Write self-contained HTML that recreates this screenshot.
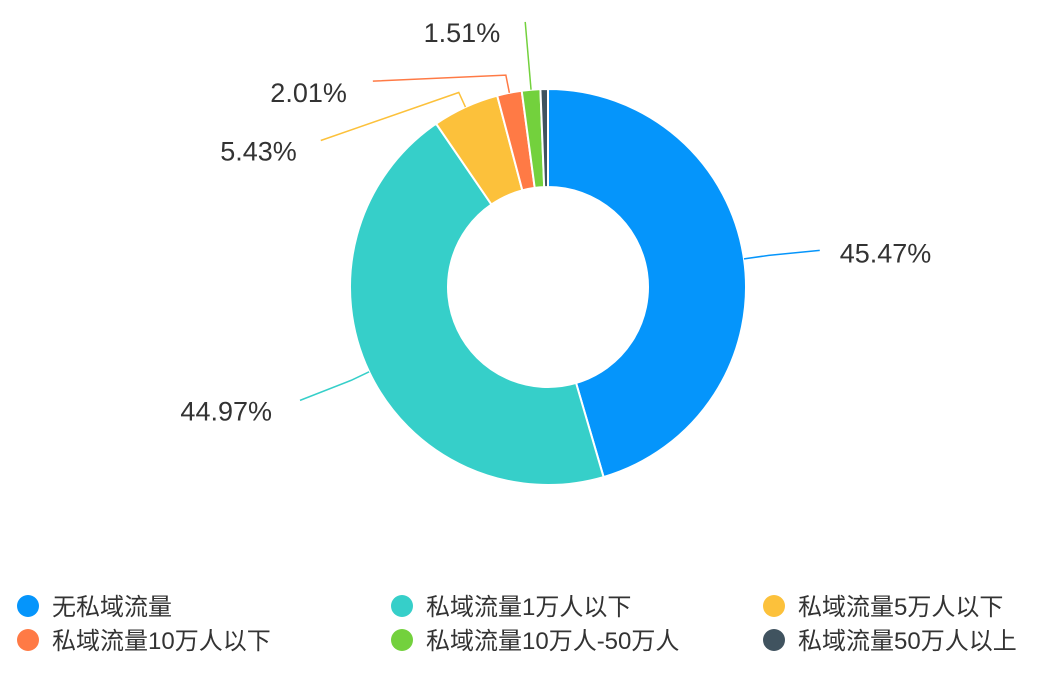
<!DOCTYPE html>
<html><head><meta charset="utf-8"><style>
body{margin:0;background:#fff;width:1057px;height:685px;overflow:hidden;font-family:"Liberation Sans","Noto Sans CJK SC",sans-serif}
</style></head><body>
<svg id="chart" width="1057" height="685" xmlns="http://www.w3.org/2000/svg"></svg>
<script>
const categories=["无私域流量","私域流量1万人以下","私域流量5万人以下","私域流量10万人以下","私域流量10万人-50万人","私域流量50万人以上"];
const values=[45.47,44.97,5.43,2.01,1.51,0.61];
const labels=["45.47%","44.97%","5.43%","2.01%","1.51%",""];
const colors=["#0595fb","#36cfc9","#fcc13b","#ff7a45","#73d13d","#40535f"];
const NS="http://www.w3.org/2000/svg";
const svg=document.getElementById('chart');
const cx=548,cy=287,R=198,r=100;
function mk(t,a){const e=document.createElementNS(NS,t);for(const k in a)e.setAttribute(k,a[k]);svg.appendChild(e);return e;}
function pt(ang,rad){return [cx+rad*Math.sin(ang),cy-rad*Math.cos(ang)];}
const total=values.reduce((a,b)=>a+b,0);
// label line styling per slice: [radial ext, end dx, end dy, label dx, label dy]
const sty=[[25,51,-5,20,12],[20,-51,20,-28,20],[16,-138,48,-24,20],[18,-133,6,-26,21],[68,0,0,-25,20],[0,0,0,0,0]];
let acc=0;
values.forEach((v,i)=>{
  const a0=acc/total*2*Math.PI;acc+=v;const a1=acc/total*2*Math.PI;
  const large=(a1-a0)>Math.PI?1:0;
  const [x0,y0]=pt(a0,R),[x1,y1]=pt(a1,R),[x2,y2]=pt(a1,r),[x3,y3]=pt(a0,r);
  const p=mk('path',{d:`M${x0},${y0}A${R},${R} 0 ${large} 1 ${x1},${y1}L${x2},${y2}A${r},${r} 0 ${large} 0 ${x3},${y3}Z`,fill:colors[i],stroke:'#fff','stroke-width':2});
  
  
  if(!labels[i])return;
  const m=(a0+a1)/2;
  const s=sty[i];
  const [e0,f0]=pt(m,R),[e1,f1]=pt(m,R+s[0]);
  const e2=e1+s[1],f2=f1+s[2];
  const ln=mk('path',{d:`M${e0},${f0}L${e1},${f1}L${e2},${f2}`,fill:'none',stroke:colors[i],'stroke-width':1.5});
  
  
  const right=s[3]>0;
  const t=mk('text',{x:e2+s[3],y:f2+s[4],'font-size':27,fill:'#333','text-anchor':right?'start':'end'});
  t.textContent=labels[i];
  
  
});
const lx=[28,402,774],ly=[606,640];
categories.forEach((c,i)=>{
  const x=lx[i%3],y=ly[Math.floor(i/3)];
  const g=mk('g',{});
  
  
  const ci=document.createElementNS(NS,'circle');ci.setAttribute('cx',x);ci.setAttribute('cy',y);ci.setAttribute('r',11);ci.setAttribute('fill',colors[i]);g.appendChild(ci);
  const t=document.createElementNS(NS,'text');t.setAttribute('x',x+24);t.setAttribute('y',y+9);t.setAttribute('font-size',24);t.setAttribute('fill','#333');t.textContent=c;g.appendChild(t);
});
</script>
</body></html>
